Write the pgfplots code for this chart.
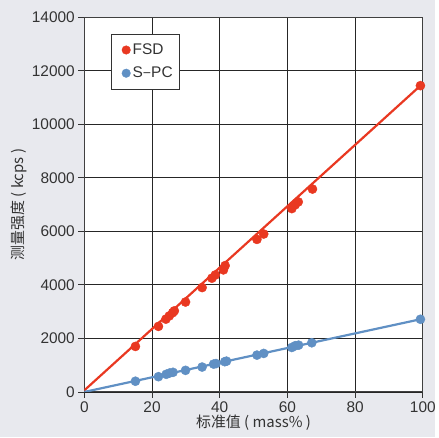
\documentclass[border=0pt]{standalone}
\usepackage{fontspec}
\setmainfont{Liberation Sans}
\newfontfamily\cjk{Noto Sans CJK SC}
\usepackage{pgfplots}
\pgfplotsset{compat=1.18}
\usetikzlibrary{backgrounds}
\definecolor{bg}{RGB}{232,233,238}
\definecolor{fsd}{RGB}{233,56,33}
\definecolor{spc}{RGB}{96,144,196}
\begin{document}
\begin{tikzpicture}
\begin{axis}[
  width=340pt, height=376.4pt, scale only axis,
  xmin=0, xmax=100, ymin=0, ymax=14000,
  xtick={0,20,...,100}, ytick={0,2000,...,14000},
  scaled ticks=false,
  grid=major, grid style={black!85, line width=0.8pt},
  axis line style={black!75, line width=0.9pt},
  axis background/.style={fill=white},
  tick align=outside, major tick length=6pt,
  tick style={black!80, line width=0.8pt},
  xtick pos=bottom, ytick pos=left,
  /pgf/number format/1000 sep={},
  /pgf/number format/assume math mode=true,
  tick label style={font=\fontsize{15.5}{18}\selectfont, text=black!80},
  xlabel={\cjk 标准值 ( mass\% )},
  ylabel={\cjk 测量强度 ( kcps )},
  label style={font=\fontsize{15}{18}\selectfont, text=black!80},
  xlabel style={yshift=4pt},
  ylabel style={yshift=-2pt},
  legend style={at={(0.079,0.956)}, anchor=north west, draw=black!80,
    nodes={font=\fontsize{15.5}{18}\selectfont, text=black!80},
    row sep=7pt, inner xsep=5pt, inner ysep=8pt},
  legend image code/.code={\path[draw=none] (0pt,0pt) -- (14pt,0pt); \fill (10pt,0pt) circle (4.3pt);},
  legend cell align=left,
]
\addplot[fsd, line width=2.2pt, forget plot] coordinates {(0,60) (99.3,11443)};
\addplot[spc, line width=2.2pt, forget plot] coordinates {(0,0) (99.3,2715)};
\addplot[only marks, mark=*, mark size=4.6pt, color=fsd] coordinates {
(15.1,1700) (21.9,2450) (24.1,2720) (25.1,2840) (26.1,2960) (26.6,3030)
(29.9,3360) (34.8,3900) (37.7,4250) (38.7,4370) (41.1,4560) (41.6,4720)
(51.0,5700) (53.0,5900) (61.3,6850) (62.3,6990) (63.2,7100) (67.4,7580)
(99.3,11443)};
\addlegendentry{FSD}
\addplot[only marks, mark=*, mark size=4.6pt, color=spc] coordinates {
(15.1,400) (21.9,570) (24.2,660) (25.2,707) (26.2,733) (29.9,807)
(34.8,930) (38.2,1041) (38.9,1060) (41.5,1130) (42.0,1150)
(51.0,1376) (53.0,1439) (61.3,1662) (62.3,1726) (63.3,1748) (67.2,1837)
(99.3,2715)};
\addlegendentry{S{\cjk –}PC}
\end{axis}
\begin{scope}[on background layer]
\fill[bg] ([shift={(-84.7pt,-45.3pt)}]current axis.south west) rectangle ([shift={(12.3pt,17.3pt)}]current axis.north east);
\end{scope}
\end{tikzpicture}
\end{document}
